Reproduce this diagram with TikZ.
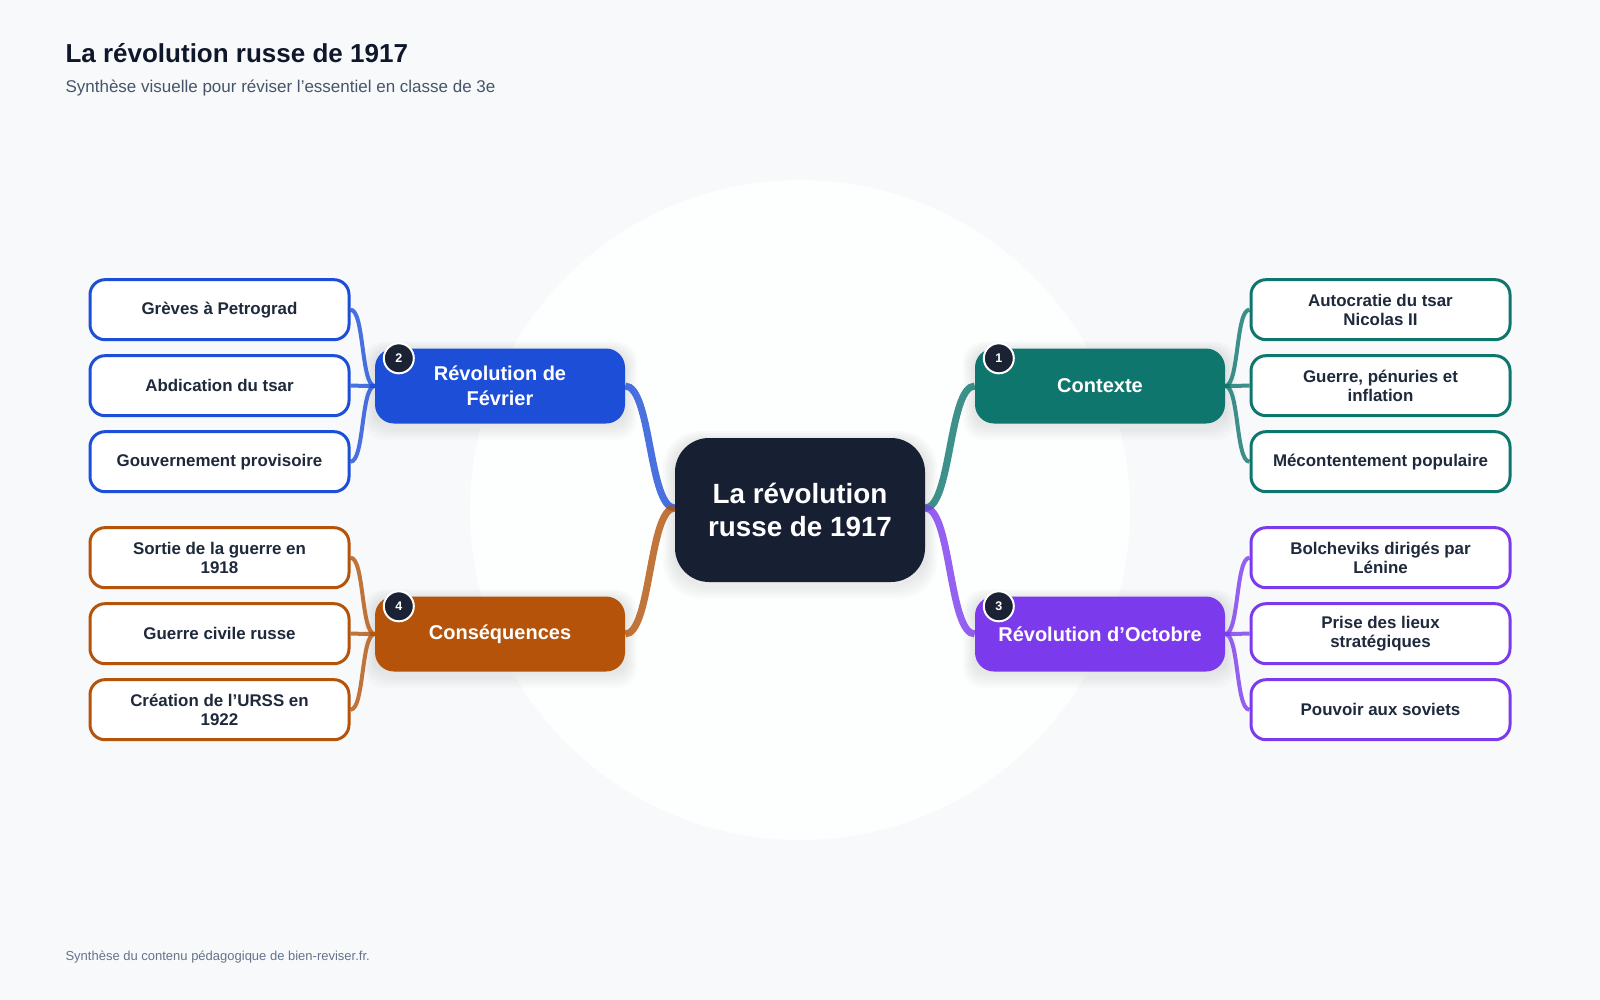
\documentclass[tikz,border=0pt]{standalone}
\usepackage{fontspec}
\setmainfont{Liberation Sans}
\usetikzlibrary{positioning}

\definecolor{paper}{HTML}{F7F9FB}
\definecolor{halo}{HTML}{FDFEFE}
\definecolor{shade}{HTML}{1E293B}
\definecolor{hubnavy}{HTML}{172033}
\definecolor{badgenavy}{HTML}{1A2233}
\definecolor{ink}{HTML}{1E293B}
\definecolor{titleink}{HTML}{0F172A}
\definecolor{subgrey}{HTML}{475569}
\definecolor{footgrey}{HTML}{64748B}
\definecolor{ctxteal}{HTML}{0F766E}
\definecolor{febblue}{HTML}{1D4ED8}
\definecolor{octpurple}{HTML}{7C3AED}
\definecolor{consorange}{HTML}{B45309}

\pgfdeclarelayer{background}
\pgfsetlayers{background,main}

% soft shadow behind a node: #1 node, #2 corner radius
\newcommand{\nodeshade}[2]{%
    \foreach \s in {2,4,...,12}
        \fill[shade, opacity=0.013, rounded corners=#2] ([xshift=-\s pt, yshift=\s pt-5pt]#1.north west) rectangle ([xshift=\s pt, yshift=-\s pt-5pt]#1.south east);}

\begin{document}
\begin{tikzpicture}[x=1pt, y=-1pt]
    \tikzset{hub/.style={rectangle, rounded corners=34pt, fill=hubnavy, text=white, minimum width=250pt, minimum height=144pt, align=center, font=\fontsize{27.8}{33}\selectfont\bfseries}}
    \tikzset{branch/.style={rectangle, rounded corners=19pt, fill=#1, text=white, minimum width=250pt, minimum height=75pt, align=center, font=\fontsize{20}{24.5}\selectfont\bfseries}}
    \tikzset{leaf/.style={rectangle, rounded corners=15pt, draw=#1, line width=3pt, fill=white, text=ink, minimum width=259pt, minimum height=60pt, align=center, font=\fontsize{16.9}{19}\selectfont\bfseries}}
    \tikzset{badge/.style={circle, fill=badgenavy, draw=white, line width=2pt, minimum size=30pt, inner sep=0pt, text=white, font=\fontsize{12.5}{12.5}\selectfont\bfseries}}
    \tikzset{trunk/.style={line width=7pt, draw=#1, draw opacity=0.8}}
    \tikzset{twig/.style={line width=4pt, draw=#1, draw opacity=0.8}}

    \useasboundingbox (0,0) rectangle (1600,1000);
    \begin{pgfonlayer}{background}
    \fill[paper] (0,0) rectangle (1600,1000);
    \fill[halo] (800,510) circle[radius=330pt];
    \end{pgfonlayer}

    \node[anchor=base west, text=titleink, font=\fontsize{26}{30}\selectfont\bfseries] (title) at (62,62.5) {La révolution russe de 1917};
    \node[anchor=base west, text=subgrey, font=\fontsize{17}{20}\selectfont] (subtitle) at (62,93) {Synthèse visuelle pour réviser l’essentiel en classe de 3e};
    \node[anchor=base west, text=footgrey, font=\fontsize{13}{15}\selectfont] (footer) at (62,960) {Synthèse du contenu pédagogique de bien-reviser.fr.};

    \node[hub] (hub) at (800,510) {La révolution\\russe de 1917};

    \node[branch=febblue] (feb) at (500,386) {Révolution de\\Février};
    \node[branch=ctxteal] (ctx) at (1100,386) {Contexte};
    \node[branch=consorange] (cons) at (500,634) {Conséquences};
    \node[branch=octpurple] (oct) at (1100,634) {Révolution d’Octobre};

    \node[badge] (b1) at ([xshift=24pt, yshift=-10pt]ctx.north west) {1};
    \node[badge] (b2) at ([xshift=24pt, yshift=-10pt]feb.north west) {2};
    \node[badge] (b3) at ([xshift=24pt, yshift=-10pt]oct.north west) {3};
    \node[badge] (b4) at ([xshift=24pt, yshift=-10pt]cons.north west) {4};

    \begin{scope}[node distance=13pt]
    \node[leaf=febblue] at (219.5,309.7) (feb1) {Grèves à Petrograd};
    \node[leaf=febblue, below=of feb1] (feb2) {Abdication du tsar};
    \node[leaf=febblue, below=of feb2] (feb3) {Gouvernement provisoire};
    \node[leaf=ctxteal] at (1380.5,309.7) (ctx1) {Autocratie du tsar\\Nicolas II};
    \node[leaf=ctxteal, below=of ctx1] (ctx2) {Guerre, pénuries et\\inflation};
    \node[leaf=ctxteal, below=of ctx2] (ctx3) {Mécontentement populaire};
    \node[leaf=consorange] at (219.5,557.7) (cons1) {Sortie de la guerre en\\1918};
    \node[leaf=consorange, below=of cons1] (cons2) {Guerre civile russe};
    \node[leaf=consorange, below=of cons2] (cons3) {Création de l’URSS en\\1922};
    \node[leaf=octpurple] at (1380.5,557.7) (oct1) {Bolcheviks dirigés par\\Lénine};
    \node[leaf=octpurple, below=of oct1] (oct2) {Prise des lieux\\stratégiques};
    \node[leaf=octpurple, below=of oct2] (oct3) {Pouvoir aux soviets};
    \end{scope}

    \begin{pgfonlayer}{background}
    \nodeshade{hub}{38pt}
    \nodeshade{feb}{22pt}
    \nodeshade{ctx}{22pt}
    \nodeshade{cons}{22pt}
    \nodeshade{oct}{22pt}
    \draw[trunk=febblue] (feb.east) .. controls +(26,0) and +(-26,0) .. ([yshift=2pt]hub.west);
    \draw[trunk=consorange] (cons.east) .. controls +(26,0) and +(-26,0) .. ([yshift=2pt]hub.west);
    \draw[trunk=ctxteal] (ctx.west) .. controls +(-26,0) and +(26,0) .. ([yshift=2pt]hub.east);
    \draw[trunk=octpurple] (oct.west) .. controls +(-26,0) and +(26,0) .. ([yshift=2pt]hub.east);
    \foreach \i in {1,2,3} {
        \draw[twig=febblue] (feb.west) .. controls +(-14,0) and +(14,0) .. (feb\i.east);
        \draw[twig=consorange] (cons.west) .. controls +(-14,0) and +(14,0) .. (cons\i.east);
        \draw[twig=ctxteal] (ctx.east) .. controls +(14,0) and +(-14,0) .. (ctx\i.west);
        \draw[twig=octpurple] (oct.east) .. controls +(14,0) and +(-14,0) .. (oct\i.west);
    }
    \end{pgfonlayer}
\end{tikzpicture}
\end{document}
